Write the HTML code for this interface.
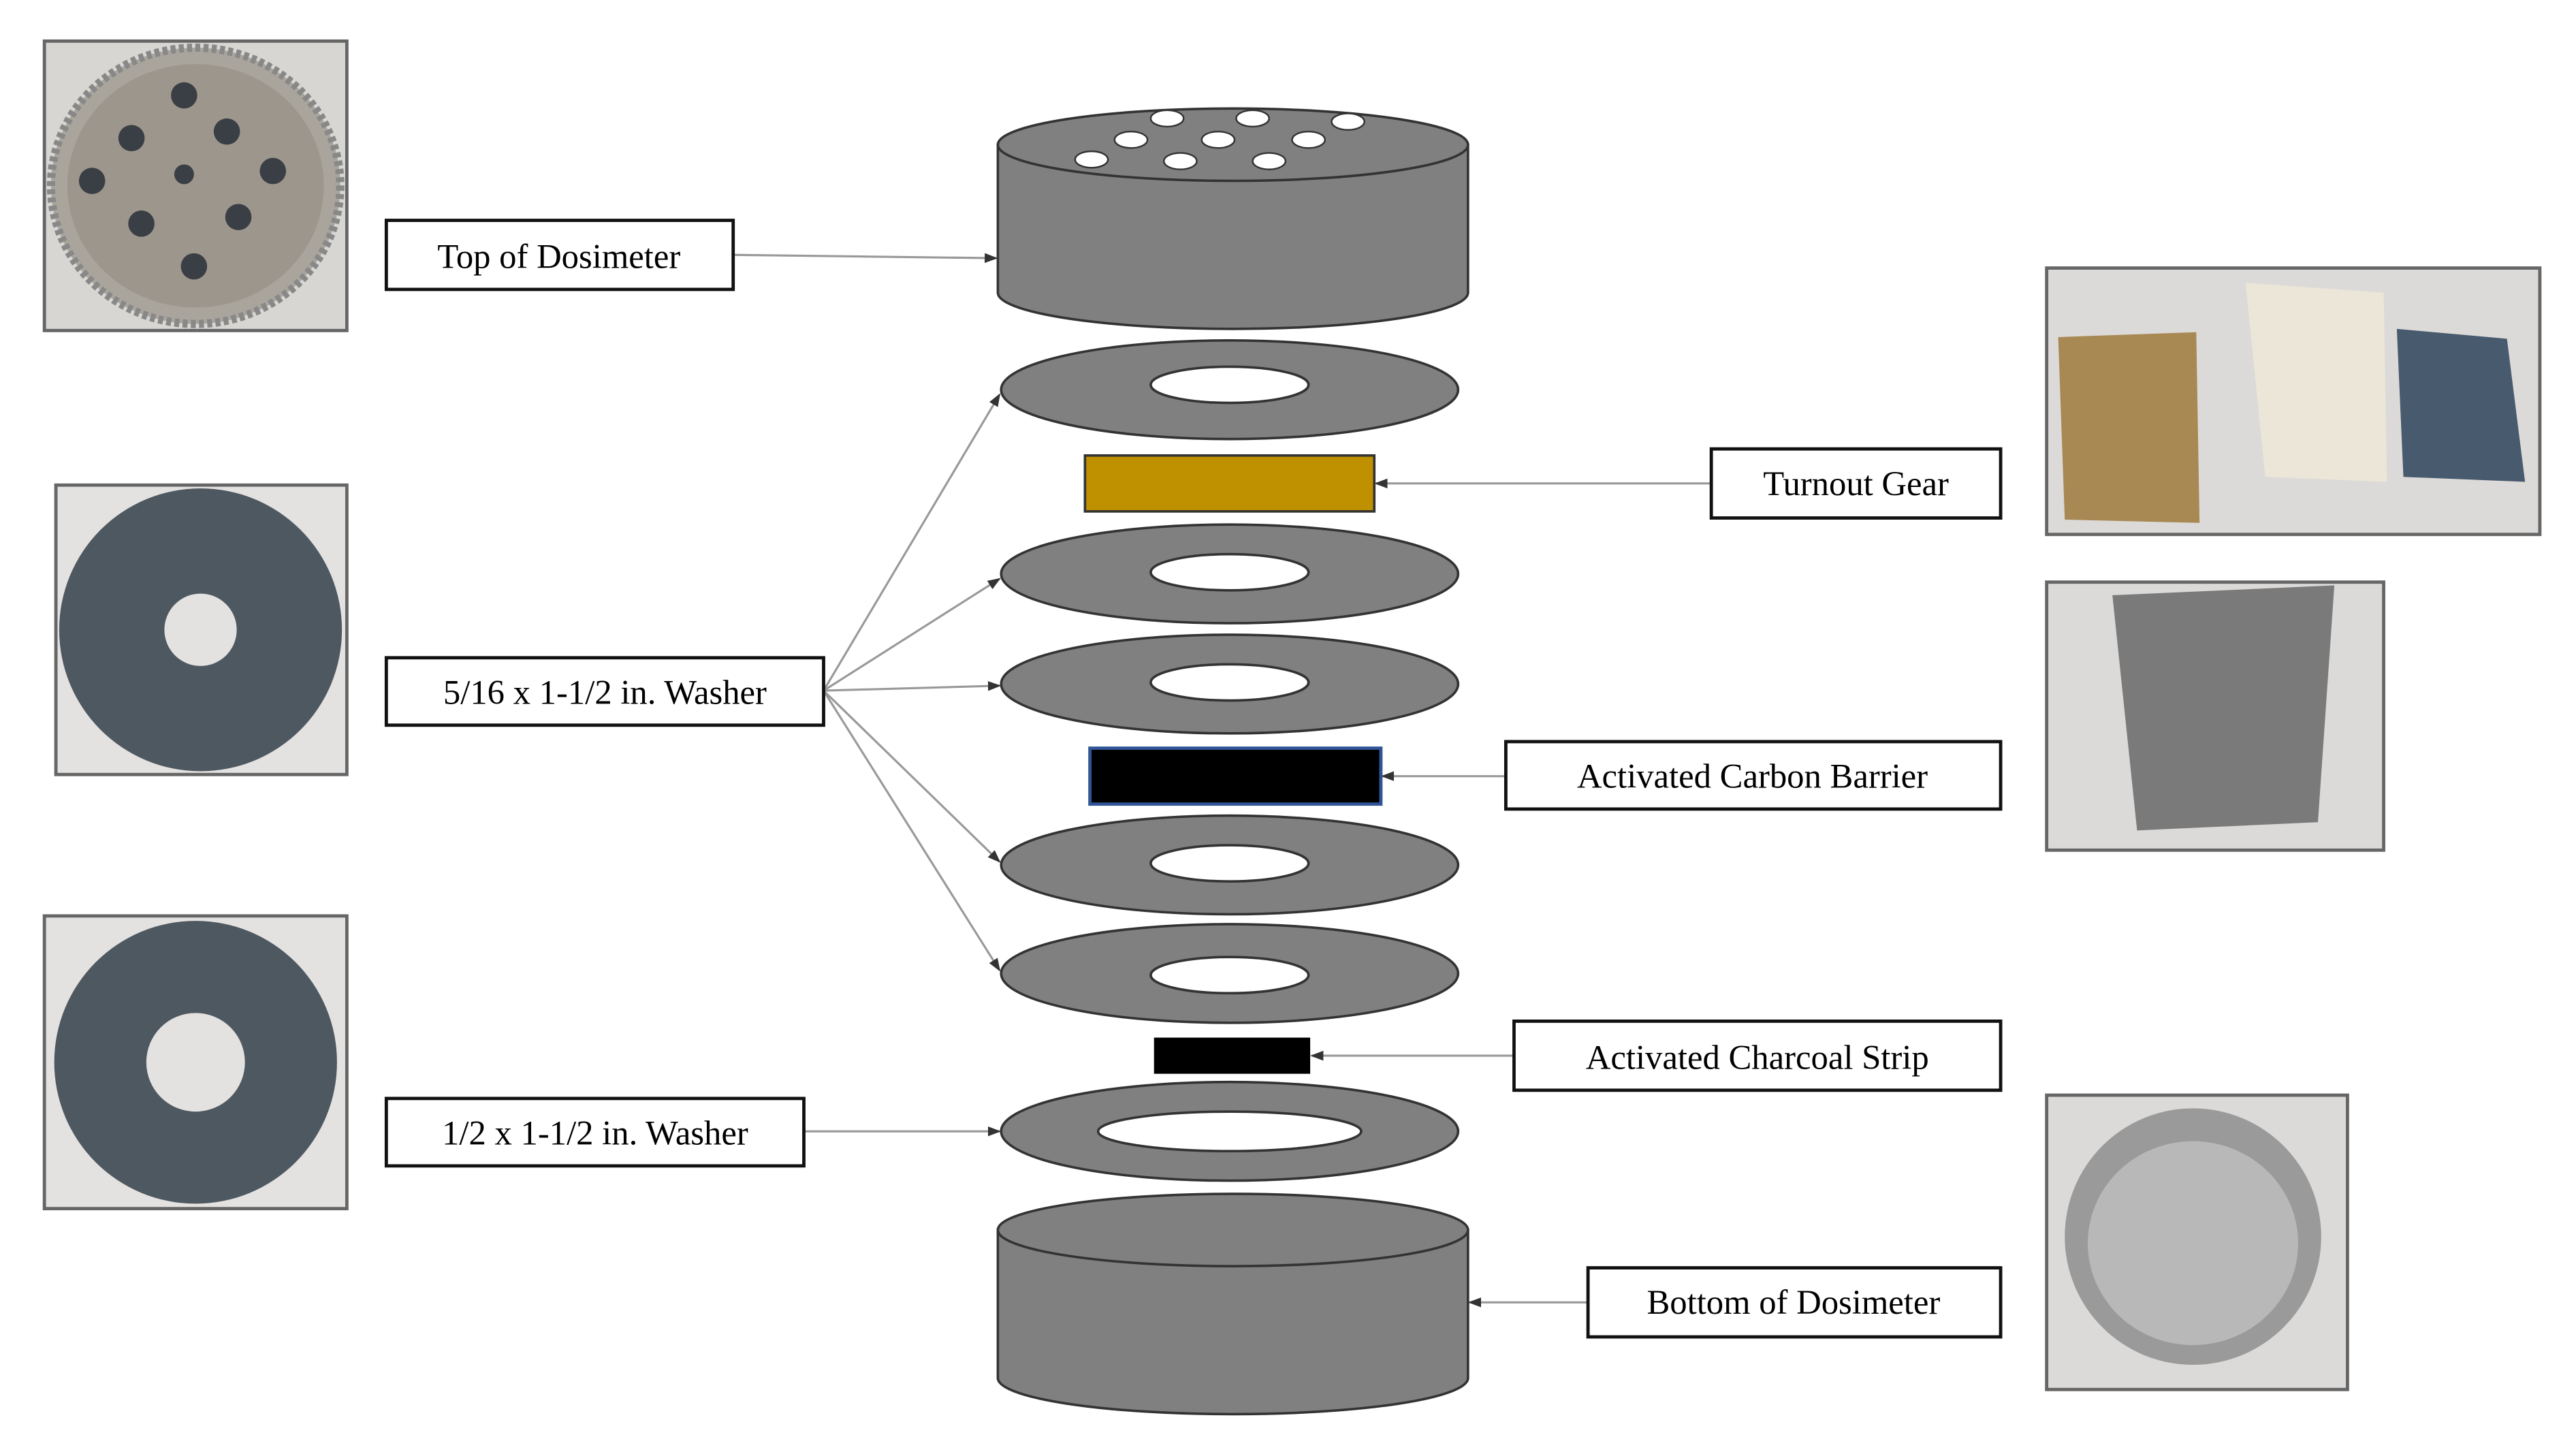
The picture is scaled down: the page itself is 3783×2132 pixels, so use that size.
<!DOCTYPE html>
<html><head><meta charset="utf-8"><style>html,body{margin:0;padding:0;background:#fff}svg{display:block}</style></head>
<body>
<svg width="3783" height="2132" viewBox="0 0 1567 883" preserveAspectRatio="none" xmlns="http://www.w3.org/2000/svg" font-family="Liberation Serif, serif">
<defs>
<marker id="a" markerWidth="8" markerHeight="8" refX="7" refY="4" orient="auto" markerUnits="userSpaceOnUse"><path d="M0,1 L8,4 L0,7 z" fill="#333"/></marker>
</defs>
<rect width="1567" height="883" fill="#fff"/>
<rect x="27" y="25" width="184" height="176" fill="#d8d6d3" stroke="#666" stroke-width="2"/>
<ellipse cx="119" cy="113" rx="88" ry="84" fill="#a9a49c" stroke="#888" stroke-width="5" stroke-dasharray="3 2"/>
<ellipse cx="119" cy="113" rx="78" ry="74" fill="#9d968c"/>
<g fill="#3a3f45"><circle cx="112" cy="58" r="8"/><circle cx="80" cy="84" r="8"/><circle cx="138" cy="80" r="8"/><circle cx="56" cy="110" r="8"/><circle cx="112" cy="106" r="6"/><circle cx="166" cy="104" r="8"/><circle cx="86" cy="136" r="8"/><circle cx="145" cy="132" r="8"/><circle cx="118" cy="162" r="8"/></g>
<rect x="34" y="295" width="177" height="176" fill="#e4e2e0" stroke="#666" stroke-width="2"/>
<circle cx="122" cy="383" r="86" fill="#4e5861"/><circle cx="122" cy="383" r="22" fill="#e4e2e0"/>
<rect x="27" y="557" width="184" height="178" fill="#e4e2e0" stroke="#666" stroke-width="2"/>
<circle cx="119" cy="646" r="86" fill="#4e5861"/><circle cx="119" cy="646" r="30" fill="#e4e2e0"/>
<rect x="1245" y="163" width="300" height="162" fill="#dcdad8" stroke="#666" stroke-width="2"/>
<path d="M1252 205 L1336 202 L1338 318 L1256 316 Z" fill="#a88954"/>
<path d="M1366 172 L1450 178 L1452 293 L1378 290 Z" fill="#ece6d8"/>
<path d="M1458 200 L1525 206 L1536 293 L1462 290 Z" fill="#485a6e"/>
<rect x="1245" y="354" width="205" height="163" fill="#dcdad8" stroke="#666" stroke-width="2"/>
<path d="M1285 362 L1420 356 L1410 500 L1300 505 Z" fill="#7a7a7a"/>
<rect x="1245" y="666" width="183" height="179" fill="#dcdad8" stroke="#666" stroke-width="2"/>
<ellipse cx="1334" cy="752" rx="78" ry="78" fill="#9a9a9a"/><ellipse cx="1334" cy="756" rx="64" ry="62" fill="#b8b8b8"/>
<g stroke="#333" stroke-width="1.5" fill="#808080">
<path d="M607 88 L607 178 A143 22 0 0 0 893 178 L893 88 Z"/>
<ellipse cx="750" cy="88" rx="143" ry="22"/>
</g>
<g fill="#fff" stroke="#333" stroke-width="1"><ellipse cx="710" cy="72" rx="10" ry="5"/><ellipse cx="762" cy="72" rx="10" ry="5"/><ellipse cx="820" cy="74" rx="10" ry="5"/><ellipse cx="688" cy="85" rx="10" ry="5"/><ellipse cx="741" cy="85" rx="10" ry="5"/><ellipse cx="796" cy="85" rx="10" ry="5"/><ellipse cx="664" cy="97" rx="10" ry="5"/><ellipse cx="718" cy="98" rx="10" ry="5"/><ellipse cx="772" cy="98" rx="10" ry="5"/></g>
<g stroke="#333" stroke-width="1.5">
<ellipse cx="748" cy="237" rx="139" ry="30" fill="#808080"/><ellipse cx="748" cy="234" rx="48" ry="11" fill="#fff"/>
<ellipse cx="748" cy="349" rx="139" ry="30" fill="#808080"/><ellipse cx="748" cy="348" rx="48" ry="11" fill="#fff"/>
<ellipse cx="748" cy="416" rx="139" ry="30" fill="#808080"/><ellipse cx="748" cy="415" rx="48" ry="11" fill="#fff"/>
<ellipse cx="748" cy="526" rx="139" ry="30" fill="#808080"/><ellipse cx="748" cy="525" rx="48" ry="11" fill="#fff"/>
<ellipse cx="748" cy="592" rx="139" ry="30" fill="#808080"/><ellipse cx="748" cy="593" rx="48" ry="11" fill="#fff"/>
<ellipse cx="748" cy="688" rx="139" ry="30" fill="#808080"/><ellipse cx="748" cy="688" rx="80" ry="12" fill="#fff"/>
</g>
<rect x="660" y="277" width="176" height="34" fill="#bf9000" stroke="#333" stroke-width="1.5"/>
<rect x="663" y="455" width="177" height="34" fill="#000" stroke="#2f5597" stroke-width="2"/>
<rect x="702" y="631" width="95" height="22" fill="#000"/>
<g stroke="#333" stroke-width="1.5" fill="#808080">
<path d="M607 748 L607 838 A143 22 0 0 0 893 838 L893 748 Z"/>
<ellipse cx="750" cy="748" rx="143" ry="22"/>
</g>
<g stroke="#999" stroke-width="1.3" fill="none" marker-end="url(#a)">
<line x1="446" y1="155" x2="606" y2="157"/>
<line x1="501" y1="420" x2="608" y2="240"/>
<line x1="501" y1="420" x2="608" y2="352"/>
<line x1="501" y1="420" x2="608" y2="417"/>
<line x1="501" y1="420" x2="608" y2="524"/>
<line x1="501" y1="420" x2="608" y2="590"/>
<line x1="489" y1="688" x2="608" y2="688"/>
<line x1="1041" y1="294" x2="837" y2="294"/>
<line x1="916" y1="472" x2="841" y2="472"/>
<line x1="921" y1="642" x2="798" y2="642"/>
<line x1="966" y1="792" x2="894" y2="792"/>
</g>
<g fill="#fff" stroke="#111" stroke-width="2">
<rect x="235" y="134" width="211" height="42"/>
<rect x="235" y="400" width="266" height="41"/>
<rect x="235" y="668" width="254" height="41"/>
<rect x="1041" y="273" width="176" height="42"/>
<rect x="916" y="451" width="301" height="41"/>
<rect x="921" y="621" width="296" height="42"/>
<rect x="966" y="771" width="251" height="42"/>
</g>
<g font-size="21" fill="#000" text-anchor="middle">
<text x="340" y="163">Top of Dosimeter</text>
<text x="368" y="428">5/16 x 1-1/2 in. Washer</text>
<text x="362" y="696">1/2 x 1-1/2 in. Washer</text>
<text x="1129" y="301">Turnout Gear</text>
<text x="1066" y="479">Activated Carbon Barrier</text>
<text x="1069" y="650">Activated Charcoal Strip</text>
<text x="1091" y="799">Bottom of Dosimeter</text>
</g>
</svg>
</body></html>
